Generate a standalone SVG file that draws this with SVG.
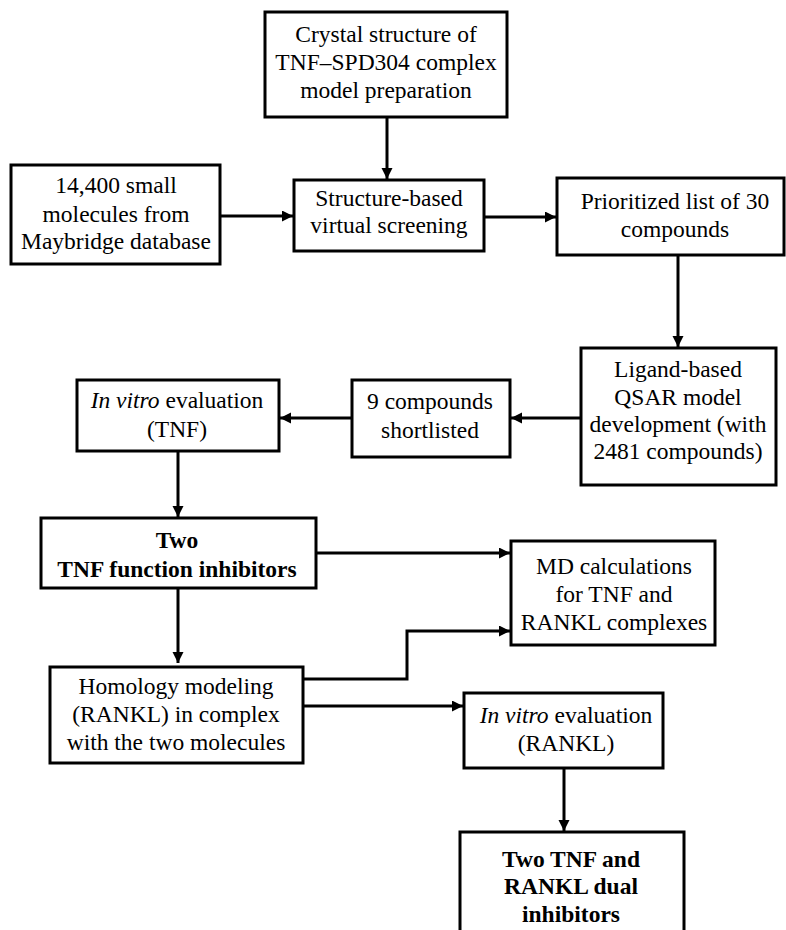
<svg xmlns="http://www.w3.org/2000/svg" width="786" height="930" viewBox="0 0 786 930" font-family="'Liberation Serif', 'DejaVu Serif', serif">
<style>
.box{fill:#fff;stroke:#000;stroke-width:3}
.t{font-family:'Liberation Serif','DejaVu Serif',serif;font-size:23.5px;fill:#000;text-anchor:middle}
.b{font-weight:bold}
.c{fill:none;stroke:#000;stroke-width:3}
</style>
<defs>
<marker id="ah" markerUnits="userSpaceOnUse" markerWidth="12" markerHeight="12" refX="11" refY="5.5" orient="auto">
<path d="M0,0 L11,5.5 L0,11 Z" fill="#000"/>
</marker>
</defs>
<rect width="786" height="930" fill="#fff"/>
<g id="connectors">
<path class="c" d="M387,117 V179" marker-end="url(#ah)"/>
<path class="c" d="M220,216 H293" marker-end="url(#ah)"/>
<path class="c" d="M484,217 H556" marker-end="url(#ah)"/>
<path class="c" d="M678,255 V347" marker-end="url(#ah)"/>
<path class="c" d="M581,418 H511" marker-end="url(#ah)"/>
<path class="c" d="M352,418 H280" marker-end="url(#ah)"/>
<path class="c" d="M178,451 V517" marker-end="url(#ah)"/>
<path class="c" d="M316,553 H510" marker-end="url(#ah)"/>
<path class="c" d="M178,588 V663" marker-end="url(#ah)"/>
<path class="c" d="M303,679 H407 V631 H510" marker-end="url(#ah)"/>
<path class="c" d="M303,706 H463" marker-end="url(#ah)"/>
<path class="c" d="M564,768 V831" marker-end="url(#ah)"/>
</g>
<g id="crystal">
<rect class="box" x="265" y="12" width="242" height="105"/>
<text class="t" x="386" y="42">Crystal structure of</text>
<text class="t" x="386" y="70">TNF–SPD304 complex</text>
<text class="t" x="386" y="98">model preparation</text>
</g>
<g id="molecules">
<rect class="box" x="11" y="165" width="209" height="99"/>
<text class="t" x="116" y="193">14,400 small</text>
<text class="t" x="116" y="222">molecules from</text>
<text class="t" x="116" y="249">Maybridge database</text>
</g>
<g id="sbvs">
<rect class="box" x="294" y="180" width="190" height="71"/>
<text class="t" x="389" y="206">Structure-based</text>
<text class="t" x="389" y="233">virtual screening</text>
</g>
<g id="prioritized">
<rect class="box" x="557" y="178" width="227" height="77"/>
<text class="t" x="675" y="209">Prioritized list of 30</text>
<text class="t" x="675" y="237">compounds</text>
</g>
<g id="ligand">
<rect class="box" x="581" y="348" width="195" height="137"/>
<text class="t" x="678" y="377">Ligand-based</text>
<text class="t" x="678" y="405">QSAR model</text>
<text class="t" x="678" y="432">development (with</text>
<text class="t" x="678" y="459">2481 compounds)</text>
</g>
<g id="shortlisted">
<rect class="box" x="352" y="380" width="158" height="77"/>
<text class="t" x="430" y="409">9 compounds</text>
<text class="t" x="430" y="438">shortlisted</text>
</g>
<g id="invitro-tnf">
<rect class="box" x="77" y="380" width="202" height="71"/>
<text class="t" x="177" y="408"><tspan font-style="italic">In vitro</tspan> evaluation</text>
<text class="t" x="177" y="437">(TNF)</text>
</g>
<g id="two-tnf">
<rect class="box" x="41" y="518" width="275" height="70"/>
<text class="t b" x="177" y="548">Two</text>
<text class="t b" x="177" y="577">TNF function inhibitors</text>
</g>
<g id="md">
<rect class="box" x="511" y="541" width="204" height="104"/>
<text class="t" x="614" y="574">MD calculations</text>
<text class="t" x="614" y="602">for TNF and</text>
<text class="t" x="614" y="630">RANKL complexes</text>
</g>
<g id="homology">
<rect class="box" x="50" y="667" width="253" height="96"/>
<text class="t" x="176" y="694">Homology modeling</text>
<text class="t" x="176" y="722">(RANKL) in complex</text>
<text class="t" x="176" y="750">with the two molecules</text>
</g>
<g id="invitro-rankl">
<rect class="box" x="464" y="693" width="199" height="75"/>
<text class="t" x="566" y="723"><tspan font-style="italic">In vitro</tspan> evaluation</text>
<text class="t" x="566" y="751">(RANKL)</text>
</g>
<g id="dual">
<rect class="box" x="460" y="832" width="224" height="110"/>
<text class="t b" x="571" y="867">Two TNF and</text>
<text class="t b" x="571" y="894">RANKL dual</text>
<text class="t b" x="571" y="922">inhibitors</text>
</g>
</svg>
